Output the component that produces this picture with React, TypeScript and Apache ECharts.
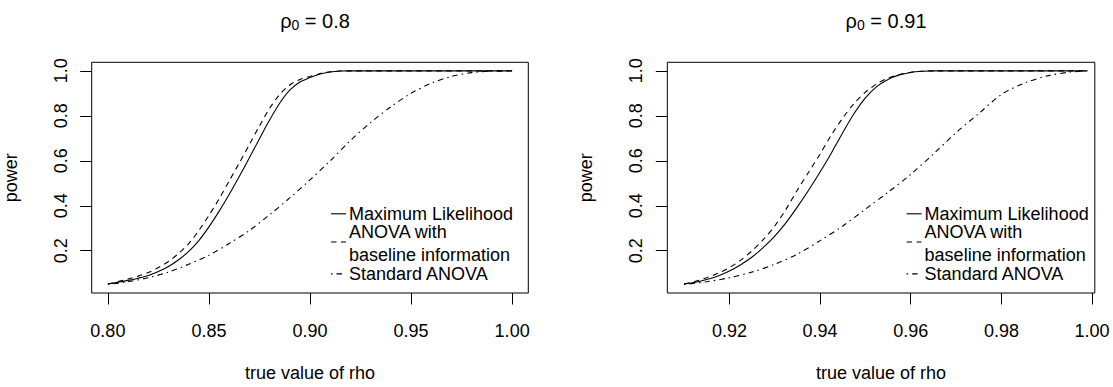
import React, { useEffect, useRef } from "react";
import * as echarts from "echarts";

const FONT = '"Liberation Sans", Arial, Helvetica, sans-serif';

// ---------- Left panel (rho0 = 0.8) ----------
const leftRhoA = [0.8, 0.805, 0.81, 0.815, 0.82, 0.825, 0.83, 0.835, 0.84, 0.845, 0.85, 0.855, 0.86, 0.865, 0.87, 0.875, 0.88, 0.885, 0.89, 0.895, 0.9, 0.905, 0.91, 0.915, 0.92, 0.95, 1.0];
const leftML = [0.052, 0.06, 0.068, 0.078, 0.09, 0.108, 0.13, 0.16, 0.197, 0.245, 0.306, 0.375, 0.45, 0.53, 0.613, 0.698, 0.781, 0.856, 0.914, 0.95, 0.97, 0.986, 0.995, 0.999, 1.0, 1.0, 1.0];
const leftBase = [0.052, 0.063, 0.074, 0.087, 0.103, 0.125, 0.152, 0.188, 0.232, 0.29, 0.357, 0.43, 0.51, 0.59, 0.672, 0.755, 0.833, 0.895, 0.937, 0.962, 0.975, 0.988, 0.996, 0.999, 1.0, 1.0, 1.0];
const leftRhoB = [0.8, 0.81, 0.82, 0.83, 0.84, 0.85, 0.86, 0.87, 0.88, 0.89, 0.9, 0.91, 0.92, 0.93, 0.94, 0.95, 0.96, 0.97, 0.98, 0.99, 1.0];
const leftStd = [0.05, 0.062, 0.08, 0.105, 0.14, 0.18, 0.232, 0.29, 0.36, 0.435, 0.515, 0.6, 0.69, 0.77, 0.84, 0.9, 0.945, 0.975, 0.992, 0.999, 1.0];
const leftTicks = [0.8, 0.85, 0.9, 0.95, 1.0];

// ---------- Right panel (rho0 = 0.91) ----------
const rightRhoA = [0.91, 0.9125, 0.915, 0.9175, 0.92, 0.9225, 0.925, 0.9275, 0.93, 0.9325, 0.935, 0.9375, 0.94, 0.9425, 0.945, 0.9475, 0.95, 0.9525, 0.955, 0.9575, 0.96, 0.9625, 0.965, 0.98, 0.999];
const rightML = [0.052, 0.06, 0.072, 0.088, 0.11, 0.138, 0.172, 0.215, 0.265, 0.325, 0.395, 0.47, 0.55, 0.635, 0.725, 0.81, 0.88, 0.93, 0.962, 0.982, 0.993, 0.998, 1.0, 1.0, 1.0];
const rightBase = [0.052, 0.064, 0.08, 0.1, 0.125, 0.158, 0.2, 0.25, 0.31, 0.385, 0.47, 0.55, 0.63, 0.715, 0.79, 0.855, 0.905, 0.942, 0.968, 0.984, 0.994, 0.998, 1.0, 1.0, 1.0];
const rightRhoB = [0.91, 0.915, 0.92, 0.925, 0.93, 0.935, 0.94, 0.945, 0.95, 0.955, 0.96, 0.965, 0.97, 0.975, 0.98, 0.985, 0.99, 0.995, 0.999];
const rightStd = [0.05, 0.062, 0.08, 0.105, 0.14, 0.185, 0.245, 0.31, 0.385, 0.46, 0.54, 0.63, 0.725, 0.81, 0.895, 0.945, 0.977, 0.994, 1.0];
const rightTicks = [0.92, 0.94, 0.96, 0.98, 1.0];

const yTicks = [0.2, 0.4, 0.6, 0.8, 1.0];
const titles = ["0.8", "0.91"];
const legendLines = ["Maximum Likelihood", "ANOVA with", "baseline information", "Standard ANOVA"];
const xName = "true value of rho";
const yName = "power";

const zip = (xs: number[], ys: number[]) => xs.map((x, i) => [x, ys[i]]);

const GRIDS = [
  { left: 91.7, top: 62.3, width: 436.6, height: 234.4, xmin: 0.792, xmax: 1.008, ticks: leftTicks },
  { left: 667.3, top: 62.3, width: 427.5, height: 234.4, xmin: 0.9063, xmax: 1.0006, ticks: rightTicks },
];

const DASH = [5.5, 4.5];
const DASHDOT = [1.5, 4, 5.5, 4];

function buildOption() {
  const rich = {
    r: { fontSize: 20, fontFamily: FONT, color: "#000", fontWeight: "normal", lineHeight: 22 },
    s: { fontSize: 14, fontFamily: FONT, color: "#000", fontWeight: "normal", lineHeight: 16, verticalAlign: "bottom" },
  };
  const title = GRIDS.map((g, i) => ({
    text: `{r|ρ}{s|0}{r| = ${titles[i]}}`,
    left: g.left + g.width / 2,
    top: 5,
    textAlign: "center",
    textStyle: { fontWeight: "normal", rich },
  }));

  const grid = GRIDS.map((g) => ({
    left: g.left,
    top: g.top,
    width: g.width,
    height: g.height,
    show: true,
    borderColor: "#000",
    borderWidth: 1,
    backgroundColor: "transparent",
  }));

  const xAxis = GRIDS.map((g, i) => ({
    type: "value",
    gridIndex: i,
    min: g.xmin,
    max: g.xmax,
    axisLine: { show: false },
    splitLine: { show: false },
    axisTick: { show: true, customValues: g.ticks, length: 11.5, lineStyle: { color: "#000", width: 1 } },
    axisLabel: {
      show: true,
      customValues: g.ticks,
      formatter: (v: number) => v.toFixed(2),
      fontSize: 18,
      fontFamily: FONT,
      color: "#000",
      margin: 29,
    },
    name: xName,
    nameLocation: "middle",
    nameGap: 71,
    nameTextStyle: { fontSize: 18, fontFamily: FONT, color: "#000" },
  }));

  const yAxis = GRIDS.map((g, i) => ({
    type: "value",
    gridIndex: i,
    min: 0.012,
    max: 1.038,
    axisLine: { show: false },
    splitLine: { show: false },
    axisTick: { show: true, customValues: yTicks, length: 11.5, lineStyle: { color: "#000", width: 1 } },
    axisLabel: {
      show: true,
      customValues: yTicks,
      formatter: (v: number) => v.toFixed(1),
      rotate: 90,
      fontSize: 18,
      fontFamily: FONT,
      color: "#000",
      margin: 22,
    },
    name: yName,
    nameLocation: "middle",
    nameGap: 72,
    nameTextStyle: { fontSize: 18, fontFamily: FONT, color: "#000" },
  }));

  const mk = (idx: number, data: number[][], type: any) => ({
    type: "line",
    xAxisIndex: idx,
    yAxisIndex: idx,
    data,
    showSymbol: false,
    symbol: "none",
    smooth: 0.3,
    silent: true,
    lineStyle: { color: "#000", width: 1.1, type },
  });

  const series = [
    mk(0, zip(leftRhoA, leftML), "solid"),
    mk(0, zip(leftRhoA, leftBase), DASH),
    mk(0, zip(leftRhoB, leftStd), DASHDOT),
    mk(1, zip(rightRhoA, rightML), "solid"),
    mk(1, zip(rightRhoA, rightBase), DASH),
    mk(1, zip(rightRhoB, rightStd), DASHDOT),
  ];

  // legends (no box, R style)
  const graphic: any[] = [];
  const legendOffsets = [0, 575.6];
  const rowY = [213.8, 232.2, 255.1, 273.9];
  legendOffsets.forEach((dx) => {
    const lx1 = 331 + dx;
    const lx2 = 346 + dx;
    const tx = 349 + dx;
    graphic.push({ type: "line", shape: { x1: lx1, y1: rowY[0], x2: lx2, y2: rowY[0] }, style: { stroke: "#000", lineWidth: 1.1 }, silent: true });
    graphic.push({ type: "line", shape: { x1: lx1, y1: 242, x2: lx2, y2: 242 }, style: { stroke: "#000", lineWidth: 1.1, lineDash: DASH }, silent: true });
    graphic.push({ type: "line", shape: { x1: lx1, y1: rowY[3], x2: lx2, y2: rowY[3] }, style: { stroke: "#000", lineWidth: 1.1, lineDash: DASHDOT }, silent: true });
    legendLines.forEach((t, k) => {
      graphic.push({
        type: "text",
        x: tx,
        y: rowY[k],
        silent: true,
        style: { text: t, fontSize: 18, lineHeight: 15, fontFamily: FONT, fill: "#000", align: "left", verticalAlign: "middle" },
      });
    });
  });

  return { animation: false, backgroundColor: "#fff", title, grid, xAxis, yAxis, series, graphic };
}

export default function App() {
  const ref = useRef<HTMLDivElement>(null);
  useEffect(() => {
    const chart = echarts.init(ref.current!, null, { renderer: "svg" });
    chart.setOption(buildOption() as any);
    return () => chart.dispose();
  }, []);
  return (
    <div
      ref={ref}
      style={{ position: "fixed", left: 0, top: 0, width: 1113, height: 387, background: "#fff" }}
    />
  );
}
